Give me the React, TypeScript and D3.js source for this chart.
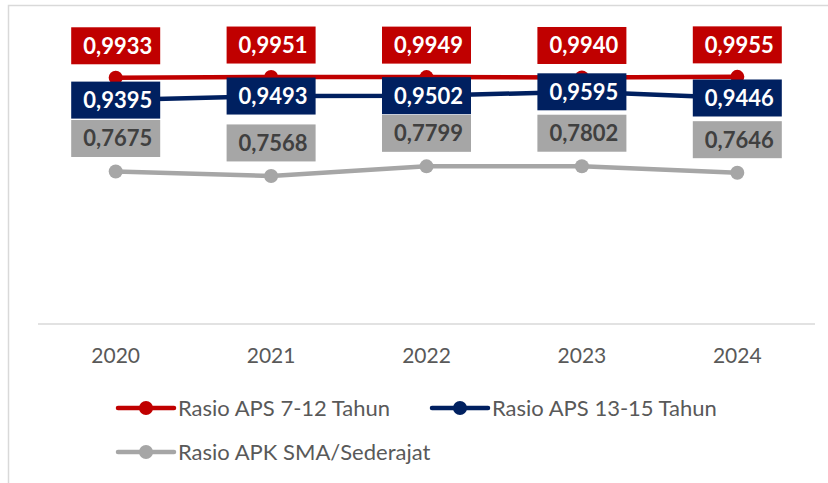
import React from "react";
import * as d3 from "d3";

const years = ["2020", "2021", "2022", "2023", "2024"];
const aps712 = [0.9933, 0.9951, 0.9949, 0.994, 0.9955];
const aps1315 = [0.9395, 0.9493, 0.9502, 0.9595, 0.9446];
const apkSma = [0.7675, 0.7568, 0.7799, 0.7802, 0.7646];
const seriesNames = ["Rasio APS 7-12 Tahun", "Rasio APS 13-15 Tahun", "Rasio APK SMA/Sederajat"];

const W = 828;
const H = 483;
const FONT = "Lato, 'Open Sans', sans-serif";

const locale = d3.formatLocale({ decimal: ",", thousands: ".", grouping: [3], currency: ["", ""] });
const fmt = locale.format(".4f");

type Series = { name: string; values: number[]; color: string; labelColor: string; textColor: string; offset: number };

const series: Series[] = [
  { name: seriesNames[2], values: apkSma, color: "#A6A6A6", labelColor: "#A6A6A6", textColor: "#404040", offset: -33 },
  { name: seriesNames[1], values: aps1315, color: "#002060", labelColor: "#002060", textColor: "#FFFFFF", offset: 0 },
  { name: seriesNames[0], values: aps712, color: "#C00000", labelColor: "#C00000", textColor: "#FFFFFF", offset: -32 },
];

export default function App() {
  const x = d3.scaleBand<string>().domain(years).range([38, 815]);
  const y = d3.scaleLinear().domain([0.4, 1.0]).range([324, 75]);
  const cx = (yr: string) => (x(yr) as number) + x.bandwidth() / 2;
  const line = d3
    .line<number>()
    .x((_, i) => cx(years[i]))
    .y((v) => y(v));

  const boxW = 89;
  const boxH = 37;

  const legendItems = [
    { s: series[2], lx: 118, ly: 408 },
    { s: series[1], lx: 432, ly: 408 },
    { s: series[0], lx: 118, ly: 452 },
  ];

  return (
    <svg
      width={W}
      height={H}
      style={{ position: "absolute", left: 0, top: 0, display: "block", background: "#fff" }}
      fontFamily={FONT}
    >
      <rect x={0} y={0} width={W} height={H} fill="#fff" />
      <rect x={8.5} y={5.5} width={1000} height={800} fill="none" stroke="#D9D9D9" strokeWidth={1.5} />
      <line x1={38} x2={815} y1={324} y2={324} stroke="#D9D9D9" strokeWidth={1.5} />
      {years.map((yr) => (
        <text key={yr} x={cx(yr)} y={363} textAnchor="middle" fontSize={21} fill="#595959">
          {yr}
        </text>
      ))}
      {series.map((s) => (
        <g key={s.name}>
          <path d={line(s.values) || ""} fill="none" stroke={s.color} strokeWidth={4.5} strokeLinejoin="round" />
          {s.values.map((v, i) => (
            <circle key={i} cx={cx(years[i])} cy={y(v)} r={7} fill={s.color} />
          ))}
        </g>
      ))}
      {series.map((s) => (
        <g key={s.name + "-labels"}>
          {s.values.map((v, i) => {
            const px = cx(years[i]);
            const py = y(v) + s.offset;
            return (
              <g key={i}>
                <rect x={px - boxW / 2} y={py - boxH / 2} width={boxW} height={boxH} fill={s.labelColor} />
                <text
                  x={px + 2}
                  y={py}
                  dy="0.36em"
                  textAnchor="middle"
                  fontSize={22}
                  fontWeight="bold"
                  fill={s.textColor}
                >
                  {fmt(v)}
                </text>
              </g>
            );
          })}
        </g>
      ))}
      {legendItems.map(({ s, lx, ly }) => (
        <g key={s.name + "-legend"}>
          <line x1={lx} x2={lx + 56} y1={ly} y2={ly} stroke={s.color} strokeWidth={4.5} strokeLinecap="round" />
          <circle cx={lx + 28} cy={ly} r={7} fill={s.color} />
          <text x={lx + 60} y={ly} dy="0.36em" fontSize={22} fill="#595959">
            {s.name}
          </text>
        </g>
      ))}
    </svg>
  );
}
